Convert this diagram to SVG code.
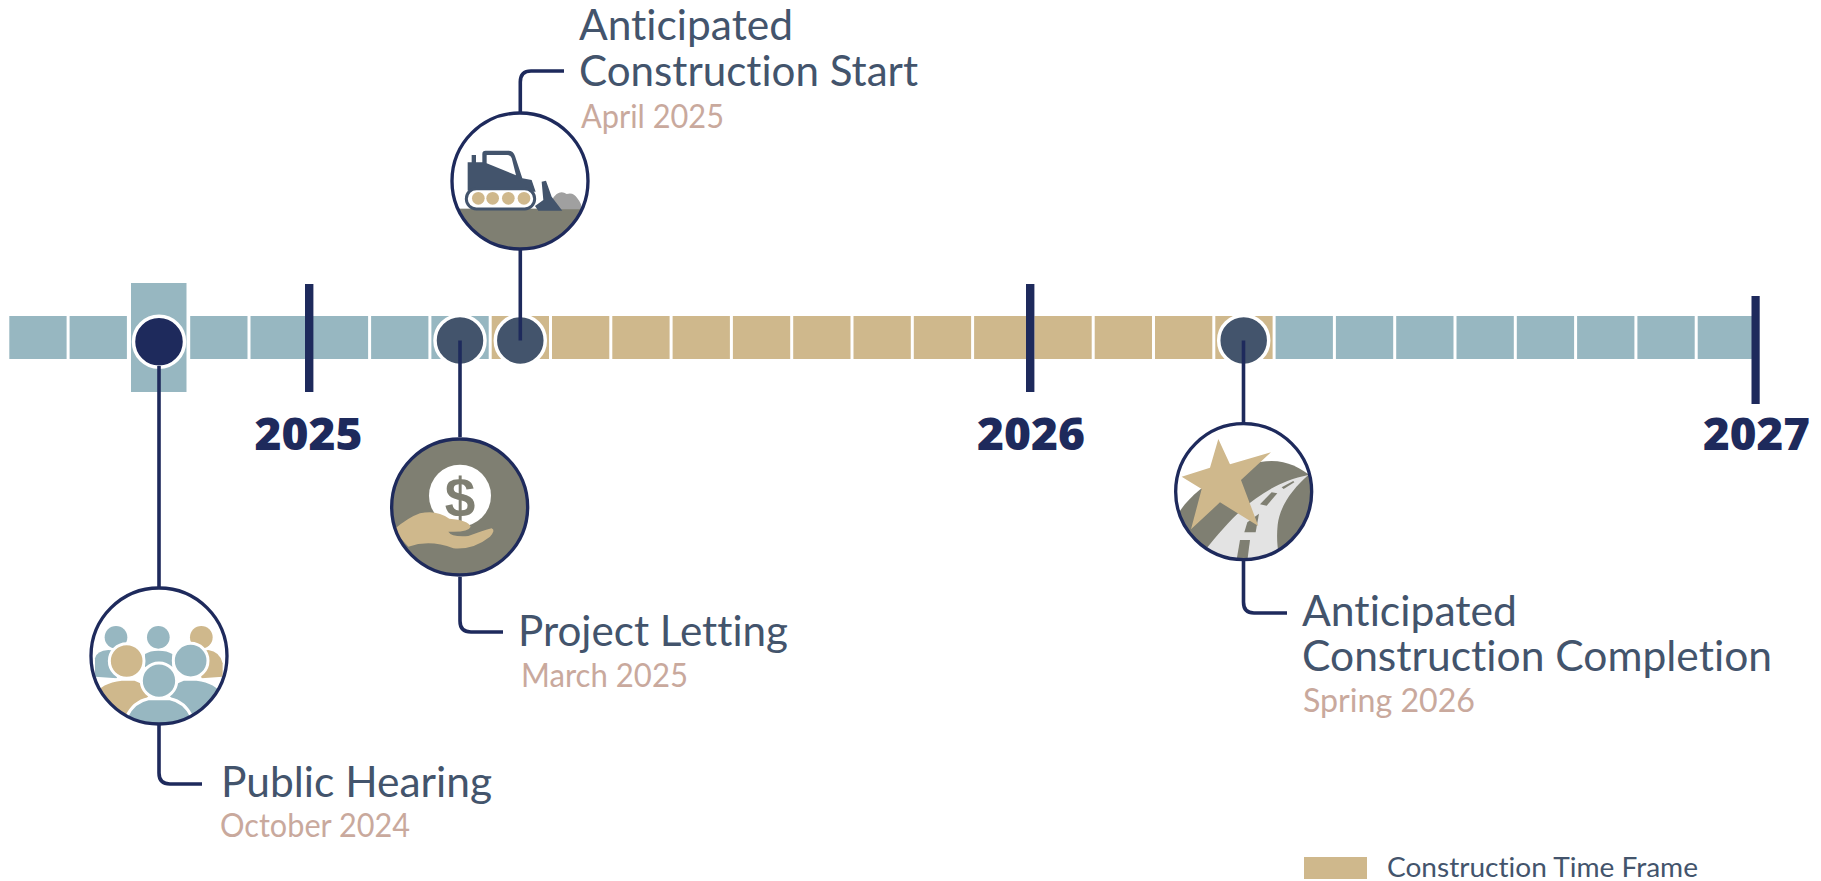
<svg xmlns="http://www.w3.org/2000/svg" width="1821" height="881" viewBox="0 0 1821 881">
<style>
text{font-family:"Lato","Open Sans","Liberation Sans",sans-serif;font-variant-ligatures:none}
.b{fill:#97b7c1}.t{fill:#cfb88c}.s{fill:#43546c}.g{fill:#7f7f72}.w{fill:#fff}
.tick{fill:#1e2a5c}
.yr{font-family:"Open Sans","Liberation Sans",sans-serif;font-weight:800;font-size:45px;fill:#1e2a5c}
.h{font-size:42px;fill:#43546c}
.d{font-size:32px;fill:#c9a99d}
.dot{stroke:#fff;stroke-width:3.5}
.ring{fill:none;stroke:#1e2a5c;stroke-width:10}
.ln{fill:none;stroke:#1e2a5c;stroke-width:3.6;stroke-linecap:butt}
</style>
<defs>
<clipPath id="cA"><circle cx="270" cy="243" r="203"/></clipPath>
<clipPath id="cB"><circle cx="237" cy="228" r="203"/></clipPath>
<clipPath id="cC"><circle cx="239" cy="231" r="203"/></clipPath>
<clipPath id="cD"><circle cx="236" cy="230" r="203"/></clipPath>
</defs>
<rect width="1821" height="881" fill="#fff"/>
<g id="timeline">
<rect class="b" x="9.3" y="316" width="57.3" height="43"/>
<rect class="b" x="69.6" y="316" width="57.3" height="43"/>
<rect class="b" x="131" y="283" width="55.5" height="109"/>
<rect class="b" x="190.2" y="316" width="57.3" height="43"/>
<rect class="b" x="250.5" y="316" width="57.3" height="43"/>
<rect class="b" x="310.8" y="316" width="57.3" height="43"/>
<rect class="b" x="371.1" y="316" width="57.3" height="43"/>
<rect class="b" x="431.4" y="316" width="57.3" height="43"/>
<rect class="t" x="491.7" y="316" width="57.3" height="43"/>
<rect class="t" x="552" y="316" width="57.3" height="43"/>
<rect class="t" x="612.3" y="316" width="57.3" height="43"/>
<rect class="t" x="672.6" y="316" width="57.3" height="43"/>
<rect class="t" x="732.9" y="316" width="57.3" height="43"/>
<rect class="t" x="793.2" y="316" width="57.3" height="43"/>
<rect class="t" x="853.5" y="316" width="57.3" height="43"/>
<rect class="t" x="913.8" y="316" width="57.3" height="43"/>
<rect class="t" x="974.1" y="316" width="57.3" height="43"/>
<rect class="t" x="1034.4" y="316" width="57.3" height="43"/>
<rect class="t" x="1094.7" y="316" width="57.3" height="43"/>
<rect class="t" x="1155" y="316" width="57.3" height="43"/>
<rect class="t" x="1215.3" y="316" width="57.3" height="43"/>
<rect class="b" x="1275.6" y="316" width="57.3" height="43"/>
<rect class="b" x="1335.9" y="316" width="57.3" height="43"/>
<rect class="b" x="1396.2" y="316" width="57.3" height="43"/>
<rect class="b" x="1456.5" y="316" width="57.3" height="43"/>
<rect class="b" x="1516.8" y="316" width="57.3" height="43"/>
<rect class="b" x="1577.1" y="316" width="57.3" height="43"/>
<rect class="b" x="1637.4" y="316" width="57.3" height="43"/>
<rect class="b" x="1697.7" y="316" width="55" height="43"/>
<rect class="tick" x="305" y="284" width="8.4" height="108"/>
<rect class="tick" x="1026" y="284" width="8.4" height="108"/>
<rect class="tick" x="1751.5" y="296" width="8.2" height="108"/>
<text class="yr" x="254.5" y="449.5" textLength="108" lengthAdjust="spacingAndGlyphs">2025</text>
<text class="yr" x="977" y="449.5" textLength="108" lengthAdjust="spacingAndGlyphs">2026</text>
<text class="yr" x="1703" y="449.5" textLength="107" lengthAdjust="spacingAndGlyphs">2027</text>
</g>
<g id="node-public-hearing">
<circle class="dot" cx="159" cy="341.7" r="25.5" fill="#1e2a5c"/>
<g transform="translate(80 580) scale(.3333)">
<circle class="w" cx="237" cy="228" r="204"/>
<g clip-path="url(#cB)">
<path class="b" d="M45,290 L45,235 Q50,212 85,210 L135,215 L110,295 Z"/>
<path class="b" d="M195,262 L195,222 Q210,212 235,212 Q262,212 277,222 L277,262 Z"/>
<path class="t" d="M428,290 L428,250 Q420,215 385,210 L345,215 L365,295 Z"/>
<circle class="b" cx="108" cy="172" r="34"/>
<circle class="b" cx="235" cy="172" r="34"/>
<circle class="t" cx="364" cy="172" r="34"/>
<path class="t" d="M40,345 Q60,305 125,298 L165,298 Q205,310 210,350 L130,440 L40,440 Z" stroke="#fff" stroke-width="9"/>
<path class="b" d="M432,345 Q410,305 350,298 L310,298 Q270,310 265,350 L345,440 L432,440 Z" stroke="#fff" stroke-width="9"/>
<circle class="t" cx="140" cy="243" r="52" stroke="#fff" stroke-width="9"/>
<circle class="b" cx="332" cy="242" r="52" stroke="#fff" stroke-width="9"/>
<path class="b" d="M140,440 L140,410 Q160,365 205,356 L270,356 Q315,365 335,410 L335,440 Z" stroke="#fff" stroke-width="9"/>
<circle class="b" cx="237" cy="302" r="53" stroke="#fff" stroke-width="9"/>
</g>
<circle class="ring" cx="237" cy="228" r="204"/>
</g>
<text class="h" x="221" y="796.5" textLength="271" lengthAdjust="spacingAndGlyphs">Public Hearing</text>
<text class="d" x="220" y="837" textLength="190" lengthAdjust="spacingAndGlyphs">October 2024</text>
</g>
<g id="node-project-letting">
<circle class="dot" cx="460" cy="340.4" r="25" fill="#43546c"/>
<g transform="translate(380 430) scale(.3333)">
<circle class="g" cx="239" cy="231" r="204"/>
<g clip-path="url(#cC)">
<circle class="w" cx="240" cy="197" r="93"/>
<text x="240" y="260" text-anchor="middle" font-size="165" font-weight="700" fill="#7f7f72" style="font-family:'Liberation Sans',sans-serif">$</text>
<path class="t" d="M40,300 Q85,262 120,250 Q170,238 208,266 Q265,270 272,290 Q265,308 205,305 Q215,322 265,318 Q310,302 335,295 Q348,300 330,320 Q280,360 220,355 Q150,328 85,350 Z"/>
</g>
<circle class="ring" cx="239" cy="231" r="204"/>
</g>
<text class="h" x="518" y="645.5" textLength="270" lengthAdjust="spacingAndGlyphs">Project Letting</text>
<text class="d" x="521" y="686.5" textLength="167" lengthAdjust="spacingAndGlyphs">March 2025</text>
</g>
<g id="node-construction-start">
<circle class="dot" cx="520.3" cy="340.4" r="25" fill="#43546c"/>
<g transform="translate(430 100) scale(.3333)">
<circle class="w" cx="270" cy="243" r="204"/>
<g clip-path="url(#cA)">
<rect class="g" x="60" y="326" width="420" height="130"/>
<path fill="#a0a0a0" d="M365,328 Q362,295 380,282 Q395,272 410,282 Q430,275 442,295 Q458,315 455,328 Z"/>
<path class="s" d="M113,272 L113,187 L125,187 L125,165 L138,165 L138,187 L157,187 L157,162 Q157,152 167,152 L235,152 Q250,152 255,168 L277,235 L305,240 L317,275 Z"/>
<path class="w" d="M170,165 L232,165 Q242,165 245,174 L258,226 L170,190 Z"/>
<rect class="w" x="109" y="266" width="205" height="61" rx="30" stroke="#43546c" stroke-width="9"/>
<circle class="t" cx="145" cy="295" r="19"/><circle class="t" cx="188" cy="295" r="19"/><circle class="t" cx="235" cy="295" r="19"/><circle class="t" cx="282" cy="295" r="19"/>
<path class="s" d="M335,245 L348,242 L365,290 L397,332 L325,332 L315,318 L340,300 Z"/>
</g>
<circle class="ring" cx="270" cy="243" r="204"/>
</g>
<text class="h" x="579" y="40" textLength="214" lengthAdjust="spacingAndGlyphs">Anticipated</text>
<text class="h" x="579" y="86" textLength="339" lengthAdjust="spacingAndGlyphs">Construction Start</text>
<text class="d" x="581" y="128" textLength="143" lengthAdjust="spacingAndGlyphs">April 2025</text>
</g>
<g id="node-construction-completion">
<circle class="dot" cx="1243.7" cy="340.4" r="25" fill="#43546c"/>
<g transform="translate(1165 415) scale(.3333)">
<circle class="w" cx="236" cy="230" r="204"/>
<g clip-path="url(#cD)">
<path class="g" d="M40,295 C100,200 230,140 320,138 C370,138 410,160 445,190 L445,445 L40,445 Z"/>
<path fill="#e3e3e3" d="M125,400 C190,320 280,210 430,180 C385,220 345,270 338,330 C333,380 340,410 345,445 L140,445 Z"/>
<path class="g" d="M225,375 L255,375 L246,445 L213,445 Z"/>
<path class="g" d="M247,322 L282,296 L272,352 L238,352 Z"/>
<path class="g" d="M285,268 L320,232 L337,235 L305,272 Z"/>
<path class="g" d="M350,217 L385,198 L388,202 L356,222 Z"/>
<path class="t" d="M160,72 L195,148 L318,112 L228,195 L280,333 L165,262 L78,343 L110,222 L50,185 L135,158 Z"/>
</g>
<circle class="ring" cx="236" cy="230" r="204"/>
</g>
<text class="h" x="1302" y="626" textLength="215" lengthAdjust="spacingAndGlyphs">Anticipated</text>
<text class="h" x="1302" y="671" textLength="470" lengthAdjust="spacingAndGlyphs">Construction Completion</text>
<text class="d" x="1303" y="712" textLength="172" lengthAdjust="spacingAndGlyphs">Spring 2026</text>
</g>
<g id="legend">
<rect class="t" x="1304" y="857" width="63" height="22"/>
<text x="1387" y="877" font-size="27" fill="#43546c" textLength="311" lengthAdjust="spacingAndGlyphs">Construction Time Frame</text>
</g>
<g id="connectors">
<path class="ln" d="M159,366 V587"/>
<path class="ln" d="M159,725 V773 Q159,784 170,784 H202"/>
<path class="ln" d="M460,340.5 V437"/>
<path class="ln" d="M460,577 V621 Q460,632 471,632 H503"/>
<path class="ln" d="M520.3,340.5 V250"/>
<path class="ln" d="M520.3,112 V82 Q520.3,71 531,71 H564"/>
<path class="ln" d="M1243.5,340.5 V423"/>
<path class="ln" d="M1243.5,561 V602 Q1243.5,613 1254,613 H1287"/>
</g>
</svg>
